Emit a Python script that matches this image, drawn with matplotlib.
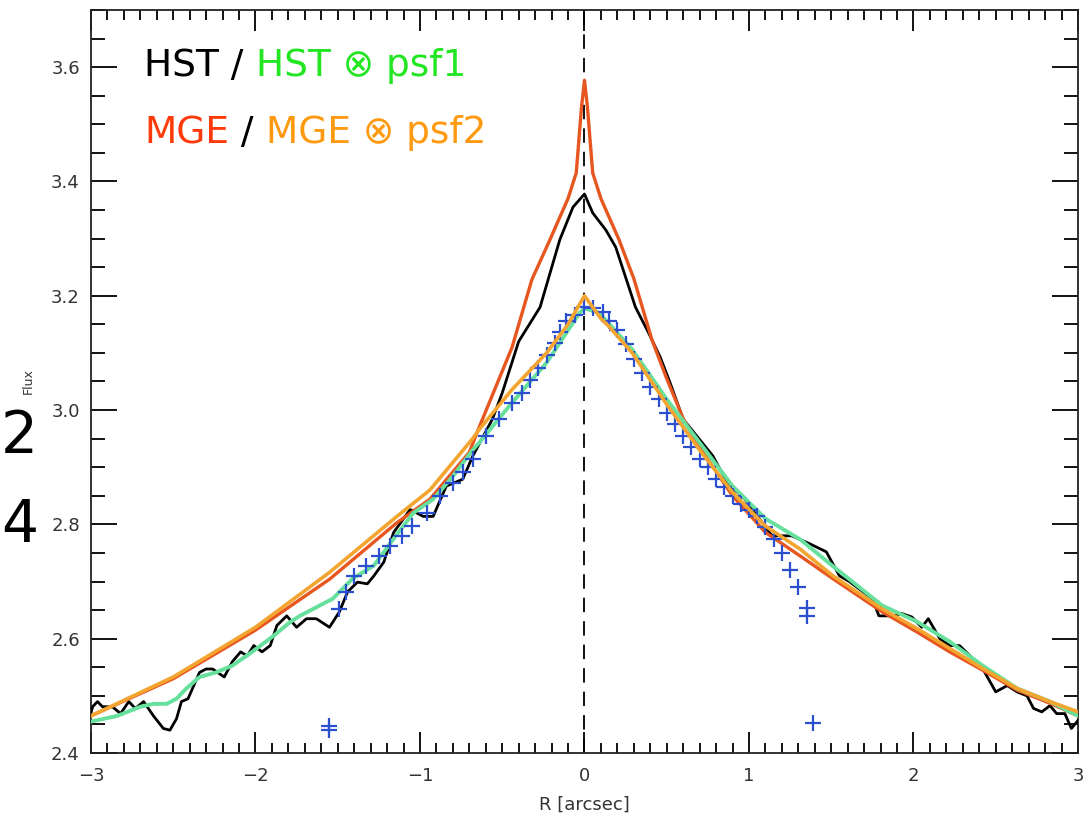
import numpy as np
import matplotlib
matplotlib.use("Agg")
import matplotlib.pyplot as plt

# HST profil (fekete)
hst_r = [-3.00, -2.99, -2.96, -2.93, -2.87, -2.82, -2.77, -2.73, -2.68, -2.62,
         -2.56, -2.52, -2.48, -2.45, -2.41, -2.34, -2.30, -2.26, -2.19, -2.14,
         -2.09, -2.05, -2.01, -1.96, -1.91, -1.87, -1.81, -1.75, -1.69, -1.63,
         -1.55, -1.49, -1.44, -1.38, -1.32, -1.28, -1.22, -1.16, -1.06, -0.98,
         -0.92, -0.84, -0.74, -0.68, -0.56, -0.50, -0.40, -0.27, -0.15, -0.07,
         0.00, 0.05, 0.13, 0.19, 0.31, 0.39, 0.46, 0.52, 0.60, 0.78,
         0.88, 0.96, 1.05, 1.14, 1.26, 1.37, 1.47, 1.55, 1.61, 1.75,
         1.79, 1.87, 1.93, 1.99, 2.05, 2.09, 2.16, 2.22, 2.28, 2.34,
         2.42, 2.50, 2.57, 2.63, 2.69, 2.73, 2.78, 2.83, 2.87, 2.92,
         2.96, 3.00]
hst_f = [2.470, 2.481, 2.490, 2.481, 2.481, 2.469, 2.490, 2.478, 2.490, 2.465,
         2.443, 2.440, 2.460, 2.490, 2.495, 2.541, 2.547, 2.547, 2.533, 2.560,
         2.577, 2.570, 2.588, 2.577, 2.588, 2.623, 2.640, 2.620, 2.635, 2.635,
         2.620, 2.647, 2.682, 2.699, 2.696, 2.710, 2.734, 2.786, 2.826, 2.814,
         2.814, 2.867, 2.879, 2.919, 2.984, 3.030, 3.120, 3.180, 3.298, 3.355,
         3.378, 3.345, 3.315, 3.285, 3.180, 3.135, 3.093, 3.048, 2.984, 2.920,
         2.867, 2.850, 2.815, 2.780, 2.780, 2.766, 2.752, 2.710, 2.700, 2.670,
         2.640, 2.640, 2.644, 2.638, 2.620, 2.635, 2.600, 2.588, 2.588, 2.571,
         2.548, 2.507, 2.518, 2.507, 2.500, 2.478, 2.472, 2.483, 2.469, 2.469,
         2.443, 2.457]

# HST ⊗ psf1 (zöld)
hstc_r = [-3.00, -2.84, -2.70, -2.62, -2.54, -2.48, -2.42, -2.34, -2.24, -2.14,
          -2.02, -1.89, -1.79, -1.73, -1.53, -1.41, -1.28, -1.16, -1.04, -0.92,
          -0.80, -0.68, -0.64, -0.44, -0.23, -0.03, 0.00, 0.09, 0.29, 0.50,
          0.70, 0.90, 1.10, 1.31, 1.51, 1.81, 2.02, 2.22, 2.42, 2.63,
          2.83, 3.00]
hstc_f = [2.455, 2.465, 2.481, 2.486, 2.486, 2.495, 2.513, 2.533, 2.541, 2.553,
          2.577, 2.605, 2.629, 2.640, 2.670, 2.705, 2.728, 2.775, 2.820, 2.844,
          2.884, 2.930, 2.943, 3.013, 3.083, 3.170, 3.178, 3.170, 3.106, 3.019,
          2.943, 2.867, 2.810, 2.774, 2.727, 2.658, 2.630, 2.595, 2.553, 2.513,
          2.490, 2.465]

# MGE (piros)
mge_r = [-3.00, -2.50, -2.00, -1.55, -1.14, -0.94, -0.70, -0.64, -0.44, -0.32,
         -0.21, -0.10, -0.05, -0.018, 0.00, 0.018, 0.05, 0.10, 0.21, 0.30,
         0.41, 0.50, 0.60, 0.70, 0.90, 1.10, 1.31, 1.51, 1.81, 2.02,
         2.22, 2.42, 2.63, 2.83, 3.00]
mge_f = [2.465, 2.530, 2.615, 2.704, 2.803, 2.844, 2.926, 2.970, 3.110, 3.228,
         3.298, 3.370, 3.415, 3.530, 3.577, 3.530, 3.415, 3.370, 3.298, 3.230,
         3.123, 3.055, 2.985, 2.935, 2.850, 2.786, 2.745, 2.705, 2.647, 2.612,
         2.577, 2.545, 2.510, 2.487, 2.465]

# MGE ⊗ psf2 (narancs)
mgec_r = [-3.00, -2.50, -2.00, -1.55, -1.14, -0.94, -0.68, -0.64, -0.44, -0.23,
          -0.10, 0.00, 0.10, 0.15, 0.29, 0.50, 0.70, 0.90, 1.10, 1.31,
          1.51, 1.81, 2.02, 2.22, 2.42, 2.63, 2.83, 3.00]
mgec_f = [2.465, 2.533, 2.620, 2.716, 2.814, 2.860, 2.950, 2.966, 3.036, 3.100,
          3.150, 3.200, 3.160, 3.146, 3.100, 3.010, 2.930, 2.856, 2.797, 2.757,
          2.710, 2.652, 2.618, 2.583, 2.548, 2.513, 2.490, 2.472]

# mért pontok (kék keresztek)
pts_r = [-1.55, -1.55, -1.49, -1.45, -1.40, -1.33, -1.25, -1.18, -1.11, -1.05,
         -0.96, -0.88, -0.80, -0.74, -0.68, -0.60, -0.52, -0.44, -0.38, -0.33,
         -0.28, -0.23, -0.18, -0.15, -0.11, -0.06, 0.00, 0.05, 0.11, 0.15,
         0.20, 0.25, 0.30, 0.35, 0.40, 0.45, 0.50, 0.55, 0.60, 0.65,
         0.70, 0.75, 0.80, 0.85, 0.90, 0.95, 1.00, 1.05, 1.10, 1.15,
         1.20, 1.25, 1.30, 1.35, 1.35, 1.39]
pts_f = [2.440, 2.447, 2.652, 2.682, 2.710, 2.728, 2.745, 2.762, 2.780, 2.797,
         2.820, 2.850, 2.873, 2.891, 2.914, 2.954, 2.984, 3.013, 3.030, 3.053,
         3.074, 3.097, 3.118, 3.137, 3.155, 3.167, 3.180, 3.178, 3.172, 3.155,
         3.140, 3.115, 3.090, 3.065, 3.040, 3.020, 2.995, 2.975, 2.955, 2.935,
         2.915, 2.900, 2.880, 2.865, 2.850, 2.835, 2.825, 2.815, 2.795, 2.775,
         2.750, 2.720, 2.690, 2.653, 2.640, 2.452]

x_ticks = [-3, -2, -1, 0, 1, 2, 3]
y_ticks = [2.4, 2.6, 2.8, 3.0, 3.2, 3.4, 3.6]

fig = plt.figure(figsize=(10.88, 8.17), dpi=100)
ax = fig.add_axes([0.0836, 0.0783, 0.9072, 0.9095])

ax.axvline(0, color="black", lw=1.3, ls=(0, (8, 5)), zorder=1)
ax.plot(hst_r, hst_f, color="black", lw=2.0, zorder=3)
ax.plot(mge_r, mge_f, color="#e8561f", lw=2.4, zorder=4)
ax.plot(hstc_r, hstc_f, color="#66e09c", lw=2.8, zorder=5)
ax.plot(pts_r, pts_f, ls="none", marker="+", ms=11, mew=1.6,
        color="#2b4fd0", zorder=6)
ax.plot(mgec_r, mgec_f, color="#f3a530", lw=2.6, zorder=7)

ax.set_xlim(-3, 3)
ax.set_ylim(2.4, 3.7)
ax.set_xticks(x_ticks)
ax.set_xticklabels(["\u22123", "\u22122", "\u22121", "0", "1", "2", "3"])
ax.set_yticks(y_ticks)
ax.set_yticklabels([f"{v:.1f}" for v in y_ticks])
ax.set_xticks(np.arange(-3, 3.01, 0.1), minor=True)
ax.set_yticks(np.arange(2.4, 3.71, 0.05), minor=True)

ax.tick_params(which="both", direction="in", top=True, right=True,
               labelsize=13, labelcolor="#333333", width=1.3)
ax.tick_params(axis="x", which="major", length=15, pad=10)
ax.tick_params(axis="x", which="minor", length=7)
ax.tick_params(axis="y", which="major", length=19, pad=8)
ax.tick_params(axis="y", which="minor", length=10)
for s in ax.spines.values():
    s.set_linewidth(1.3)
    s.set_color("#222222")

ax.set_xlabel("R [arcsec]", fontsize=13, color="#333333", labelpad=8)
ax.set_ylabel("Flux", fontsize=9, color="#333333")
ax.yaxis.set_label_coords(-0.057, 0.5)

# felirat
fs = 27
t = ax.text(0.054, 0.925, "HST / ", transform=ax.transAxes, fontsize=fs,
            color="black", va="center")
t = ax.annotate("HST \u2297 psf1", xycoords=t, xy=(1, 0.5), va="center",
                fontsize=fs, color="#22e622")
t = ax.text(0.054, 0.834, "MGE", transform=ax.transAxes, fontsize=fs,
            color="#ff3a0a", va="center")
t = ax.annotate(" / ", xycoords=t, xy=(1, 0.5), va="center",
                fontsize=fs, color="black")
t = ax.annotate("MGE \u2297 psf2", xycoords=t, xy=(1, 0.5), va="center",
                fontsize=fs, color="#ff9a10")

# a dia nagy betűi a bal szélen
fig.text(0.001, 1 - 437 / 817, "2", fontsize=42, ha="left", va="center")
fig.text(0.001, 1 - 525 / 817, "4", fontsize=42, ha="left", va="center")

fig.savefig("out.png", dpi=100)
